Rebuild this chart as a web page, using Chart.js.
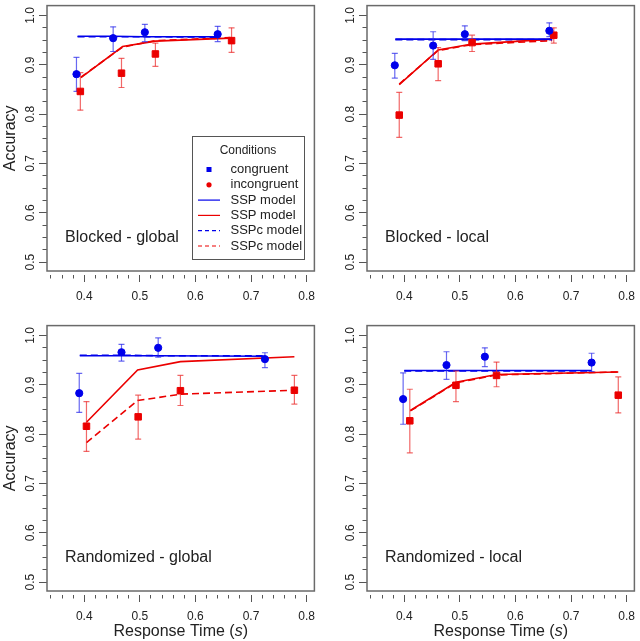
<!DOCTYPE html>
<html>
<head>
<meta charset="UTF-8" />
<title>Accuracy vs response time</title>
<script src="https://cdn.jsdelivr.net/npm/chart.js"></script>
<style>
  body { margin: 0; background: #fff; font-family: "Liberation Sans", Arial, sans-serif; }
  .panel { position: absolute; width: 320px; height: 320px; }
  .bottom { height: 321px; }
</style>
</head>
<body>
<div class="panel" style="left:0;top:0"><canvas id="c1"></canvas></div>
<div class="panel" style="left:320px;top:0"><canvas id="c2"></canvas></div>
<div class="panel bottom" style="left:0;top:320px"><canvas id="c3"></canvas></div>
<div class="panel bottom" style="left:320px;top:320px"><canvas id="c4"></canvas></div>

<script>
// axis ticks
const xMajorTicks = [0.4, 0.5, 0.6, 0.7, 0.8];
const xMinorTicks = [0.34, 0.36, 0.38, 0.4, 0.42, 0.44, 0.46, 0.48, 0.5, 0.52, 0.54, 0.56, 0.58,
                     0.6, 0.62, 0.64, 0.66, 0.68, 0.7, 0.72, 0.74, 0.76, 0.78, 0.8];
const yMajorTicks = [0.5, 0.6, 0.7, 0.8, 0.9, 1.0];
const yMinorTicks = [0.5, 0.525, 0.55, 0.575, 0.6, 0.625, 0.65, 0.675, 0.7, 0.725, 0.75, 0.775,
                     0.8, 0.825, 0.85, 0.875, 0.9, 0.925, 0.95, 0.975, 1.0];

// Blocked - global
const bgRtC  = [0.386, 0.452, 0.509, 0.640];
const bgAccC = [0.881, 0.954, 0.966, 0.962];
const bgLoC  = [0.846, 0.927, 0.947, 0.947];
const bgHiC  = [0.915, 0.977, 0.982, 0.978];
const bgRtI  = [0.393, 0.467, 0.528, 0.665];
const bgAccI = [0.846, 0.883, 0.922, 0.949];
const bgLoI  = [0.808, 0.854, 0.897, 0.925];
const bgHiI  = [0.884, 0.913, 0.944, 0.975];
const bgModRtC = [0.388, 0.452, 0.509, 0.640];
const bgSspC   = [0.958, 0.958, 0.957, 0.957];
const bgSspcC  = [0.957, 0.957, 0.957, 0.956];
const bgModRtI = [0.394, 0.469, 0.528, 0.663];
const bgSspI   = [0.874, 0.937, 0.948, 0.954];
const bgSspcI  = [0.875, 0.936, 0.949, 0.955];

// Blocked - local
const blRtC  = [0.383, 0.452, 0.509, 0.661];
const blAccC = [0.899, 0.939, 0.962, 0.969];
const blLoC  = [0.873, 0.911, 0.949, 0.957];
const blHiC  = [0.923, 0.967, 0.979, 0.985];
const blRtI  = [0.391, 0.461, 0.522, 0.669];
const blAccI = [0.798, 0.902, 0.945, 0.960];
const blLoI  = [0.753, 0.868, 0.927, 0.944];
const blHiI  = [0.844, 0.935, 0.960, 0.975];
const blModRtC = [0.384, 0.452, 0.509, 0.666];
const blSspC   = [0.952, 0.952, 0.952, 0.952];
const blSspcC  = [0.951, 0.951, 0.951, 0.951];
const blModRtI = [0.391, 0.461, 0.522, 0.666];
const blSspI   = [0.860, 0.930, 0.942, 0.952];
const blSspcI  = [0.861, 0.929, 0.941, 0.949];

// Randomized - global
const rgRtC  = [0.391, 0.467, 0.533, 0.725];
const rgAccC = [0.883, 0.966, 0.975, 0.952];
const rgLoC  = [0.844, 0.948, 0.956, 0.935];
const rgHiC  = [0.923, 0.982, 0.995, 0.965];
const rgRtI  = [0.404, 0.497, 0.573, 0.778];
const rgAccI = [0.816, 0.835, 0.888, 0.889];
const rgLoI  = [0.765, 0.790, 0.858, 0.861];
const rgHiI  = [0.866, 0.879, 0.919, 0.919];
const rgModRtC = [0.392, 0.467, 0.533, 0.725];
const rgSspC   = [0.959, 0.959, 0.959, 0.958];
const rgSspcC  = [0.960, 0.960, 0.959, 0.959];
const rgModRtI = [0.404, 0.496, 0.573, 0.778];
const rgSspI   = [0.824, 0.930, 0.947, 0.957];
const rgSspcI  = [0.783, 0.868, 0.881, 0.889];

// Randomized - local
const rlRtC  = [0.398, 0.476, 0.545, 0.737];
const rlAccC = [0.871, 0.940, 0.957, 0.945];
const rlLoC  = [0.820, 0.911, 0.937, 0.927];
const rlHiC  = [0.924, 0.967, 0.975, 0.964];
const rlRtI  = [0.410, 0.493, 0.566, 0.785];
const rlAccI = [0.827, 0.899, 0.919, 0.879];
const rlLoI  = [0.762, 0.866, 0.896, 0.843];
const rlHiI  = [0.891, 0.928, 0.946, 0.916];
const rlModRtC = [0.400, 0.476, 0.545, 0.737];
const rlSspC   = [0.929, 0.929, 0.929, 0.929];
const rlSspcC  = [0.928, 0.928, 0.928, 0.928];
const rlModRtI = [0.411, 0.493, 0.566, 0.785];
const rlSspI   = [0.848, 0.905, 0.921, 0.926];
const rlSspcI  = [0.847, 0.904, 0.920, 0.926];

const BLUE = 'rgb(0,0,235)';
const RED = 'rgb(235,0,0)';
const BLUE_ERR = 'rgba(40,40,235,0.7)';
const RED_ERR = 'rgba(235,40,40,0.7)';
const FONT = '"Liberation Sans", Arial, sans-serif';
const TXT = '#222';

const legendEntries = [
  { text: 'congruent', kind: 'square', color: BLUE },
  { text: 'incongruent', kind: 'dot', color: RED },
  { text: 'SSP model', kind: 'line', color: BLUE, dash: [] },
  { text: 'SSP model', kind: 'line', color: RED, dash: [] },
  { text: 'SSPc model', kind: 'line', color: BLUE, dash: [4, 3] },
  { text: 'SSPc model', kind: 'line', color: RED, dash: [4, 3] }
];

function pts(xs, ys) { return xs.map((x, i) => ({ x: x, y: ys[i] })); }

// error bars: lo -> hi segments separated by gaps
function bars(xs, lo, hi) {
  const out = [];
  xs.forEach((x, i) => { out.push({ x: x, y: lo[i] }, { x: x, y: hi[i] }, { x: x, y: null }); });
  return out;
}

function drawLegend(ctx) {
  const bx = 192.5, by = 136.5, bw = 112, bh = 123;
  ctx.fillStyle = '#fff';
  ctx.fillRect(bx, by, bw, bh);
  ctx.strokeStyle = '#555';
  ctx.lineWidth = 1;
  ctx.strokeRect(bx, by, bw, bh);
  ctx.fillStyle = TXT;
  ctx.textAlign = 'center';
  ctx.textBaseline = 'middle';
  ctx.font = '12px ' + FONT;
  ctx.fillText('Conditions', 248, 151);
  ctx.font = '13px ' + FONT;
  legendEntries.forEach((e, i) => {
    const y = 169.5 + i * 15.3;
    if (e.kind === 'square') {
      ctx.fillStyle = e.color;
      ctx.fillRect(206.5, y - 2.5, 5, 5);
    } else if (e.kind === 'dot') {
      ctx.fillStyle = e.color;
      ctx.beginPath();
      ctx.arc(209, y, 2.6, 0, Math.PI * 2);
      ctx.fill();
    } else {
      ctx.strokeStyle = e.color;
      ctx.lineWidth = 1.2;
      ctx.setLineDash(e.dash);
      ctx.beginPath();
      ctx.moveTo(198, y);
      ctx.lineTo(220, y);
      ctx.stroke();
      ctx.setLineDash([]);
    }
    ctx.fillStyle = TXT;
    ctx.textAlign = 'left';
    ctx.fillText(e.text, 230.5, y);
  });
}

const decoPlugin = {
  id: 'deco',
  afterDraw(chart, args, o) {
    const ctx = chart.ctx, a = chart.chartArea;
    ctx.save();
    ctx.strokeStyle = '#6a6a6a';
    ctx.lineWidth = 1.5;
    ctx.strokeRect(a.left, a.top, a.right - a.left, a.bottom - a.top);

    ctx.fillStyle = TXT;
    ctx.font = '16px ' + FONT;
    ctx.textAlign = 'left';
    ctx.textBaseline = 'middle';
    ctx.fillText(o.label, a.left + 18, a.bottom - 33);

    if (o.xTitle) {
      const parts = [['Response Time (', ''], ['s', 'italic '], [')', '']];
      let w = 0;
      parts.forEach(p => { ctx.font = p[1] + '16px ' + FONT; w += ctx.measureText(p[0]).width; });
      let x = (a.left + a.right) / 2 - w / 2;
      const y = chart.height - 9;
      parts.forEach(p => {
        ctx.font = p[1] + '16px ' + FONT;
        ctx.fillText(p[0], x, y);
        x += ctx.measureText(p[0]).width;
      });
    }
    if (o.legend) drawLegend(ctx);
    ctx.restore();
  }
};

function makePanel(id, d, opt) {
  const xMin = 0.333, xMax = 0.814, yMin = 0.482, yMax = 1.02;
  const xH = opt.xTitle ? 46 : 45;
  const lineDs = (label, data, color, dash) => ({
    label: label, data: data, borderColor: color, borderWidth: 1.6, borderDash: dash,
    pointRadius: 0, fill: false, order: 3, xAxisID: 'x', yAxisID: 'y'
  });
  const errDs = (label, data, color) => ({
    label: label, data: data, borderColor: color, borderWidth: 1.2, spanGaps: false,
    pointStyle: 'line', pointRadius: 3, pointBorderColor: color, pointBorderWidth: 1.2,
    order: 2, xAxisID: 'x', yAxisID: 'y'
  });
  new Chart(document.getElementById(id), {
    type: 'line',
    data: {
      datasets: [
        { label: 'congruent', data: pts(d.rtC, d.accC), showLine: false, pointStyle: 'circle',
          pointRadius: 3.6, backgroundColor: BLUE, borderColor: BLUE, order: 0, xAxisID: 'x', yAxisID: 'y' },
        { label: 'incongruent', data: pts(d.rtI, d.accI), showLine: false, pointStyle: 'rect',
          pointRadius: 4.6, backgroundColor: RED, borderColor: RED, order: 0, xAxisID: 'x', yAxisID: 'y' },
        errDs('congruent CI', bars(d.rtC, d.loC, d.hiC), BLUE_ERR),
        errDs('incongruent CI', bars(d.rtI, d.loI, d.hiI), RED_ERR),
        lineDs('SSP model', pts(d.modRtC, d.sspC), BLUE, []),
        lineDs('SSP model', pts(d.modRtI, d.sspI), RED, []),
        lineDs('SSPc model', pts(d.modRtC, d.sspcC), BLUE, [7, 4]),
        lineDs('SSPc model', pts(d.modRtI, d.sspcI), RED, [7, 4])
      ]
    },
    options: {
      responsive: true,
      maintainAspectRatio: false,
      animation: false,
      layout: { padding: { top: 2, right: 4, left: 0, bottom: 0 } },
      plugins: {
        legend: { display: false },
        tooltip: { enabled: false },
        deco: { label: opt.label, legend: opt.legend, xTitle: opt.xTitle }
      },
      scales: {
        y: {
          type: 'linear', axis: 'y', position: 'left', weight: 1, min: yMin, max: yMax,
          afterBuildTicks: s => { s.ticks = yMajorTicks.map(v => ({ value: v })); },
          afterFit: s => { s.width = 47; s.paddingTop = 0; s.paddingBottom = 0; },
          border: { display: false },
          grid: { drawOnChartArea: false, tickLength: 8, tickColor: '#555', tickWidth: 1 },
          ticks: {
            autoSkip: false, minRotation: 90, maxRotation: 90, crossAlign: 'center', padding: 0,
            color: TXT, font: { family: FONT, size: 12 }, callback: v => v.toFixed(1)
          },
          title: {
            display: opt.yTitle, text: 'Accuracy', color: TXT,
            font: { family: FONT, size: 16 }, padding: { top: 1, bottom: 0 }
          }
        },
        yMinor: {
          type: 'linear', axis: 'y', position: 'left', weight: 0, min: yMin, max: yMax,
          afterBuildTicks: s => { s.ticks = yMinorTicks.map(v => ({ value: v })); },
          afterFit: s => { s.width = 0; s.paddingTop = 0; s.paddingBottom = 0; },
          border: { display: false },
          grid: { drawOnChartArea: false, tickLength: 4.5, tickColor: '#555', tickWidth: 1 },
          ticks: { display: false }
        },
        xGap: {
          type: 'linear', axis: 'x', position: 'bottom', weight: 0, min: xMin, max: xMax,
          afterFit: s => { s.height = 4; s.paddingLeft = 0; s.paddingRight = 0; },
          border: { display: false }, grid: { display: false }, ticks: { display: false }
        },
        xMinor: {
          type: 'linear', axis: 'x', position: 'bottom', weight: 1, min: xMin, max: xMax,
          afterBuildTicks: s => { s.ticks = xMinorTicks.map(v => ({ value: v })); },
          afterFit: s => { s.height = 0; s.paddingLeft = 0; s.paddingRight = 0; },
          border: { display: false },
          grid: { drawOnChartArea: false, tickLength: 3.5, tickColor: '#555', tickWidth: 1 },
          ticks: { display: false }
        },
        x: {
          type: 'linear', axis: 'x', position: 'bottom', weight: 2, min: xMin, max: xMax,
          afterBuildTicks: s => { s.ticks = xMajorTicks.map(v => ({ value: v })); },
          afterFit: s => { s.height = xH; s.paddingLeft = 0; s.paddingRight = 0; },
          border: { display: false },
          grid: { drawOnChartArea: false, tickLength: 7, tickColor: '#555', tickWidth: 1 },
          ticks: {
            autoSkip: false, maxRotation: 0, padding: 7, color: TXT,
            font: { family: FONT, size: 12 }, callback: v => v.toFixed(1)
          }
        }
      }
    },
    plugins: [decoPlugin]
  });
}

makePanel('c1', { rtC: bgRtC, accC: bgAccC, loC: bgLoC, hiC: bgHiC, rtI: bgRtI, accI: bgAccI, loI: bgLoI, hiI: bgHiI,
  modRtC: bgModRtC, sspC: bgSspC, sspcC: bgSspcC, modRtI: bgModRtI, sspI: bgSspI, sspcI: bgSspcI },
  { label: 'Blocked - global', legend: true, yTitle: true, xTitle: false });
makePanel('c2', { rtC: blRtC, accC: blAccC, loC: blLoC, hiC: blHiC, rtI: blRtI, accI: blAccI, loI: blLoI, hiI: blHiI,
  modRtC: blModRtC, sspC: blSspC, sspcC: blSspcC, modRtI: blModRtI, sspI: blSspI, sspcI: blSspcI },
  { label: 'Blocked - local', legend: false, yTitle: false, xTitle: false });
makePanel('c3', { rtC: rgRtC, accC: rgAccC, loC: rgLoC, hiC: rgHiC, rtI: rgRtI, accI: rgAccI, loI: rgLoI, hiI: rgHiI,
  modRtC: rgModRtC, sspC: rgSspC, sspcC: rgSspcC, modRtI: rgModRtI, sspI: rgSspI, sspcI: rgSspcI },
  { label: 'Randomized - global', legend: false, yTitle: true, xTitle: true });
makePanel('c4', { rtC: rlRtC, accC: rlAccC, loC: rlLoC, hiC: rlHiC, rtI: rlRtI, accI: rlAccI, loI: rlLoI, hiI: rlHiI,
  modRtC: rlModRtC, sspC: rlSspC, sspcC: rlSspcC, modRtI: rlModRtI, sspI: rlSspI, sspcI: rlSspcI },
  { label: 'Randomized - local', legend: false, yTitle: false, xTitle: true });
</script>
</body>
</html>
